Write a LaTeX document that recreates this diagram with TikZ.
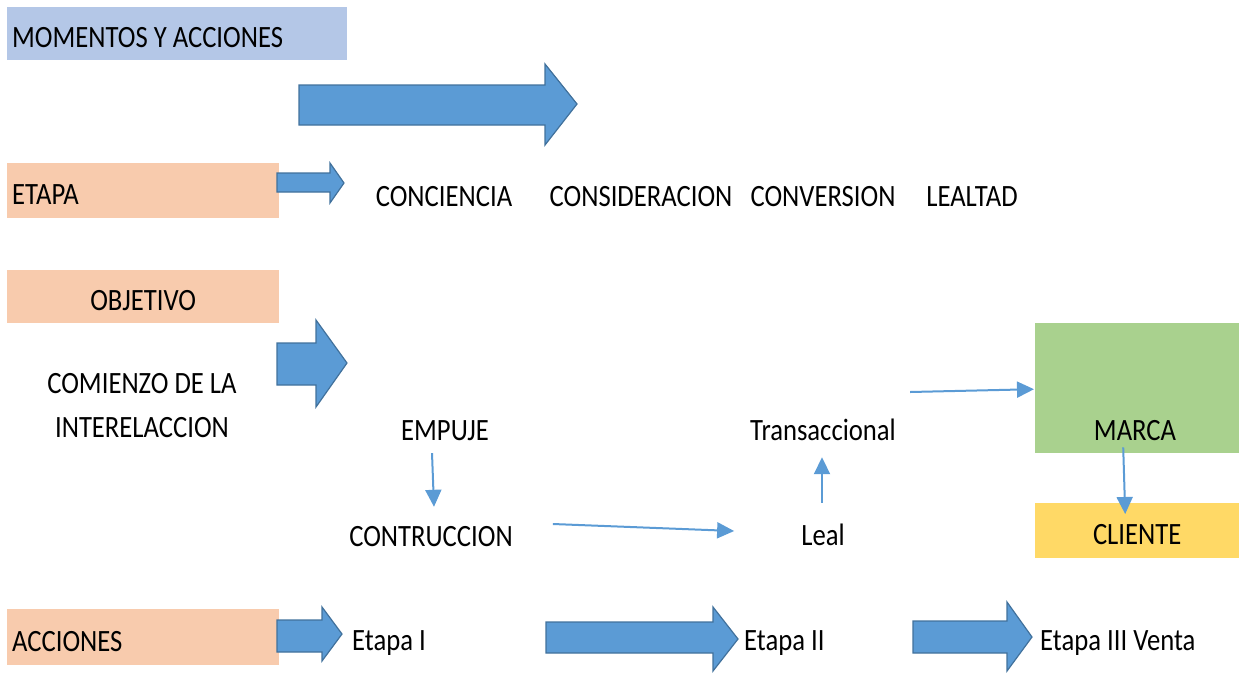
\documentclass[tikz,border=0pt]{standalone}
\usepackage{fontspec}
\setmainfont{Carlito}[FakeStretch=0.86]
\usetikzlibrary{arrows.meta,calc}
\definecolor{headblue}{HTML}{B4C7E7}
\definecolor{peach}{HTML}{F8CBAD}
\definecolor{brandgreen}{HTML}{A9D18E}
\definecolor{clientyellow}{HTML}{FFD966}
\definecolor{arrowfill}{HTML}{5B9BD5}
\definecolor{arrowline}{HTML}{41719C}
\tikzset{
  lbl/.style={inner sep=0pt, text height=20pt, text depth=0pt, anchor=base},
  band/.style={draw=none, inner xsep=5pt, inner ysep=0pt, text height=28pt, text depth=0pt, anchor=north west},
  blockarrow/.style={fill=arrowfill, draw=arrowline, line width=1.2pt, line join=miter},
  link/.style={draw=arrowfill, line width=2pt, -{Triangle[length=17pt,width=16pt]}}
}
\begin{document}
\begin{tikzpicture}[x=1pt,y=-1pt]
\useasboundingbox (0,0) rectangle (1241,673);
\fontsize{31pt}{36pt}\selectfont

% section headings on coloured bands
\node[band, fill=headblue, minimum width=340pt, minimum height=53pt, text width=330pt, align=flush left] (momentos) at (7,7) {MOMENTOS Y ACCIONES};
\node[band, fill=peach, minimum width=272pt, minimum height=55pt, text width=262pt, align=flush left] (etapa) at (7,163) {ETAPA};
\node[band, fill=peach, minimum width=272pt, minimum height=53pt, text width=262pt, align=flush center] (objetivo) at (7,270) {OBJETIVO};
\node[band, fill=peach, minimum width=272pt, minimum height=56pt, text width=262pt, align=flush left] (acciones) at (7,609) {ACCIONES};

% block arrows
\draw[blockarrow] (299,85) -- (545,85) -- (545,64) -- (577,104) -- (545,145) -- (545,125) -- (299,125) -- cycle;
\draw[blockarrow] (277,173) -- (330,173) -- (330,163) -- (344,183) -- (330,203) -- (330,192) -- (277,192) -- cycle;
\draw[blockarrow] (277,343) -- (316,343) -- (316,320) -- (347,363) -- (316,407) -- (316,385) -- (277,385) -- cycle;
\draw[blockarrow] (277,620) -- (322,620) -- (322,607) -- (342,634) -- (322,661) -- (322,652) -- (277,652) -- cycle;
\draw[blockarrow] (546,622) -- (713,622) -- (713,607) -- (738,639) -- (713,671) -- (713,653) -- (546,653) -- cycle;
\draw[blockarrow] (913,621) -- (1007,621) -- (1007,602) -- (1032,637) -- (1007,671) -- (1007,653) -- (913,653) -- cycle;

% stages
\node[lbl] (conciencia) at (444,206) {CONCIENCIA};
\node[lbl] (consideracion) at (641,206) {CONSIDERACION};
\node[lbl] (conversion) at (823,206) {CONVERSION};
\node[lbl] (lealtad) at (972,206) {LEALTAD};

% objective
\node[lbl] (comienzo) at (142,393) {COMIENZO DE LA};
\node[lbl] (interelaccion) at (142,437) {INTERELACCION};
\node[lbl] (empuje) at (445,440) {EMPUJE};
\node[lbl] (contr) at (431,546) {CONTRUCCION};
\node[lbl] (leal) at (823,545) {Leal};
\node[lbl] (trans) at (823,440) {Transaccional};

% brand and client
\node[draw=none, fill=brandgreen, minimum width=204pt, minimum height=130pt, inner sep=0pt, anchor=north west] (marcabox) at (1035,323) {};
\node[lbl] (marca) at (1135,440) {MARCA};
\node[draw=none, fill=clientyellow, minimum width=204pt, minimum height=55pt, inner sep=0pt, text height=28pt, text depth=0pt, anchor=north west] (cliente) at (1035,503) {CLIENTE};

% actions
\node[lbl, anchor=base west] (etapa1) at (352,650) {Etapa I};
\node[lbl, anchor=base west] (etapa2) at (744,650) {Etapa II};
\node[lbl, anchor=base west] (etapa3) at (1040,650) {Etapa III Venta};

% thin connectors
\draw[link] ($(empuje.south)+(-13,13)$) -- ($(contr.north)+(3,-19)$);
\draw[link] ($(contr.east)+(40,-12)$) -- ($(leal.west)+(-67,-4)$);
\draw[link] ($(leal.north)+(-1,-22)$) -- ($(trans.south)+(-1,17)$);
\draw[link] ($(trans.east)+(14,-38)$) -- ($(marcabox.west)+(-1,1)$);
\draw[link] ($(marcabox.south)+(-14,-6)$) -- ($(cliente.north)+(-12,11)$);
\end{tikzpicture}
\end{document}
